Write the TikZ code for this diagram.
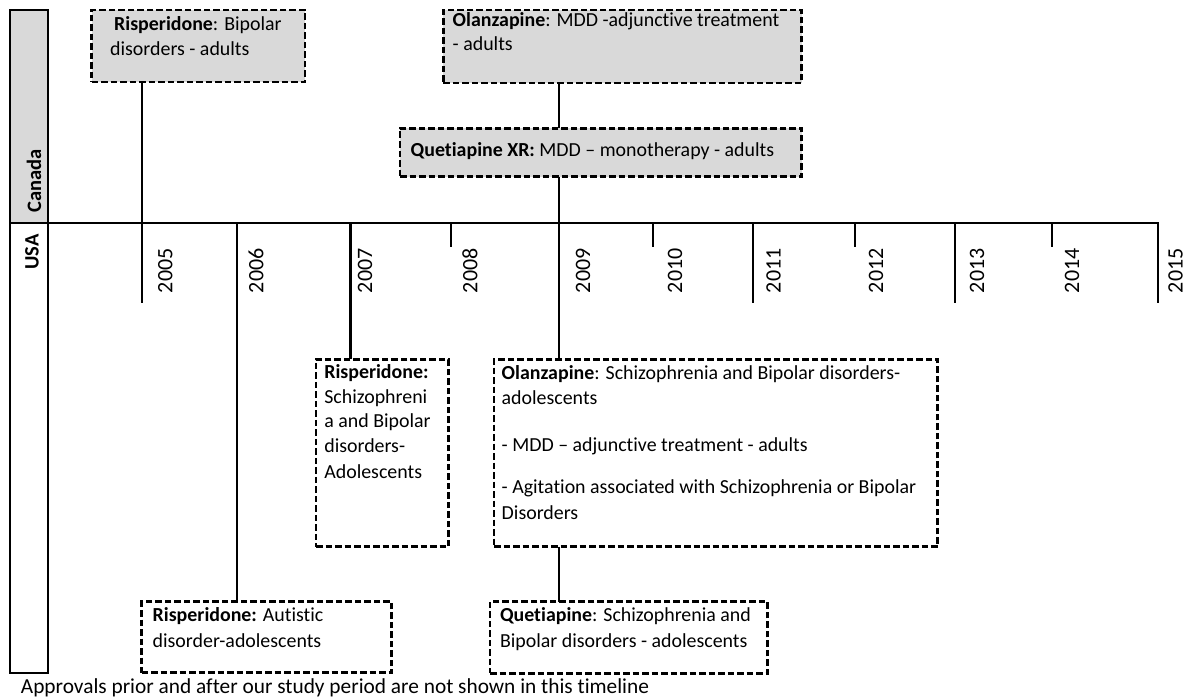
\documentclass[tikz,border=0pt]{standalone}
\usepackage{fontspec}
\setmainfont{Carlito}[Ligatures={TeX,NoCommon}]
\definecolor{boxgray}{HTML}{D9D9D9}
% width, height, left pad, first baseline, content
\newcommand\boxtext[5]{\parbox[t][#2][t]{#1}{\raggedright\setlength\leftskip{#3}\setlength\rightskip{-80pt plus 1fil}\parindent=0pt\lineskiplimit=-100pt\rule{0pt}{#4}#5}}
\tikzset{
  dbox/.style={draw, line width=2.6pt, dash pattern=on 6.5pt off 3pt, inner sep=0pt, outer sep=0pt, anchor=north west, font=\fontsize{19.9}{24.5}\selectfont},
  gbox/.style={dbox, fill=boxgray},
  cbox/.style={draw, line width=2.3pt, inner sep=0pt, outer sep=0pt, anchor=north west, minimum width=38.3pt},
  tl/.style={line width=2.2pt, line join=miter},
  yr/.style={rotate=90, anchor=west, inner sep=0pt, font=\fontsize{22}{26}\selectfont},
  ctry/.style={rotate=90, anchor=west, inner sep=0pt, font=\bfseries\fontsize{20.5}{24}\selectfont},
  note/.style={anchor=base west, inner sep=0pt, font=\fontsize{21.35}{25}\selectfont}
}
\begin{document}
\begin{tikzpicture}[x=1pt,y=-1pt]
\useasboundingbox (0,0) rectangle (1188,698);
% country column
\node[cbox, fill=boxgray, minimum height=212.7pt] (can) at (10,10) {};
\node[cbox, minimum height=450pt] (usa) at (10,222.7) {};
\node[ctry] (canlbl) at (34,213) {Canada};
\node[ctry] (usalbl) at (32,270) {USA};
% timeline coordinates
\foreach \n/\x in {2005/141.7,2006/237,2007/350.5,2008/450.8,2009/559,2010/653,2011/752.7,2012/855,2013/955,2014/1052.3,2015/1157.7}
  \coordinate (y\n) at (\x,222.7);
\foreach \n/\x in {2005/141.7,2011/752.7,2013/955,2015/1157.7}
  \coordinate (e\n) at (\x,302.7);
\foreach \n/\x in {2008/450.8,2010/653,2012/855,2014/1052.3}
  \coordinate (e\n) at (\x,246.7);
% year labels
\foreach \n/\x in {2005/165.3,2006/256,2007/365,2008/470,2009/583,2010/675,2011/773.5,2012/876,2013/977,2014/1072,2015/1175.5}
  \node[yr] (l\n) at (\x,293.3) {\n};
% boxes
\node[gbox] (A) at (91.7,10) {\boxtext{213.3pt}{72pt}{18.5pt}{21pt}{\hspace{4pt}\textbf{Risperidone}: Bipolar\\ disorders - adults}};
\node[gbox] (B) at (443.3,10) {\boxtext{358.4pt}{73pt}{9.4pt}{16.5pt}{\textbf{Olanzapine}: MDD -adjunctive treatment\\ - adults}};
\node[gbox] (C) at (400,128.3) {\boxtext{401.7pt}{48.4pt}{10.7pt}{27.7pt}{\textbf{Quetiapine XR:} MDD – monotherapy - adults}};
\node[dbox] (D) at (316,359.3) {\boxtext{132.5pt}{187.4pt}{8.3pt}{19.4pt}{\textbf{Risperidone:}\\ Schizophreni\\ a and Bipolar\\ disorders-\\[2pt] Adolescents}};
\node[dbox] (E) at (494,359.3) {\boxtext{443.7pt}{187.4pt}{7.7pt}{20.2pt}{\textbf{Olanzapine}: Schizophrenia and Bipolar disorders-\\ adolescents\\[23pt] - MDD – adjunctive treatment - adults\\[17.5pt] - Agitation associated with Schizophrenia or Bipolar\\[1pt] Disorders}};
\node[dbox] (F) at (490,601.7) {\boxtext{277.7pt}{71.5pt}{10pt}{19.3pt}{\textbf{Quetiapine}: Schizophrenia and\\[1.5pt] Bipolar disorders - adolescents}};
\node[dbox] (G) at (141.7,601.7) {\boxtext{250pt}{71pt}{11pt}{19.3pt}{\textbf{Risperidone:} Autistic\\[1.5pt] disorder-adolescents}};
% timeline and ticks
\draw[tl] (usa.north east) -- (y2015) -- (e2015);
\draw[tl] (A.south -| y2005) -- (e2005);
\draw[tl] (y2006) -- (G.north -| y2006);
\draw[tl] (y2007) -- (D.north -| y2007);
\draw[tl] (y2008) -- (e2008);
\draw[tl] (B.south -| y2009) -- (C.north -| y2009);
\draw[tl] (C.south -| y2009) -- (E.north -| y2009);
\draw[tl] (E.south -| y2009) -- (F.north -| y2009);
\draw[tl] (y2010) -- (e2010);
\draw[tl] (y2011) -- (e2011);
\draw[tl] (y2012) -- (e2012);
\draw[tl] (y2013) -- (e2013);
\draw[tl] (y2014) -- (e2014);
% note
\node[note] (cap) at (20.7,693) {Approvals prior and after our study period are not shown in this timeline};
\end{tikzpicture}
\end{document}
